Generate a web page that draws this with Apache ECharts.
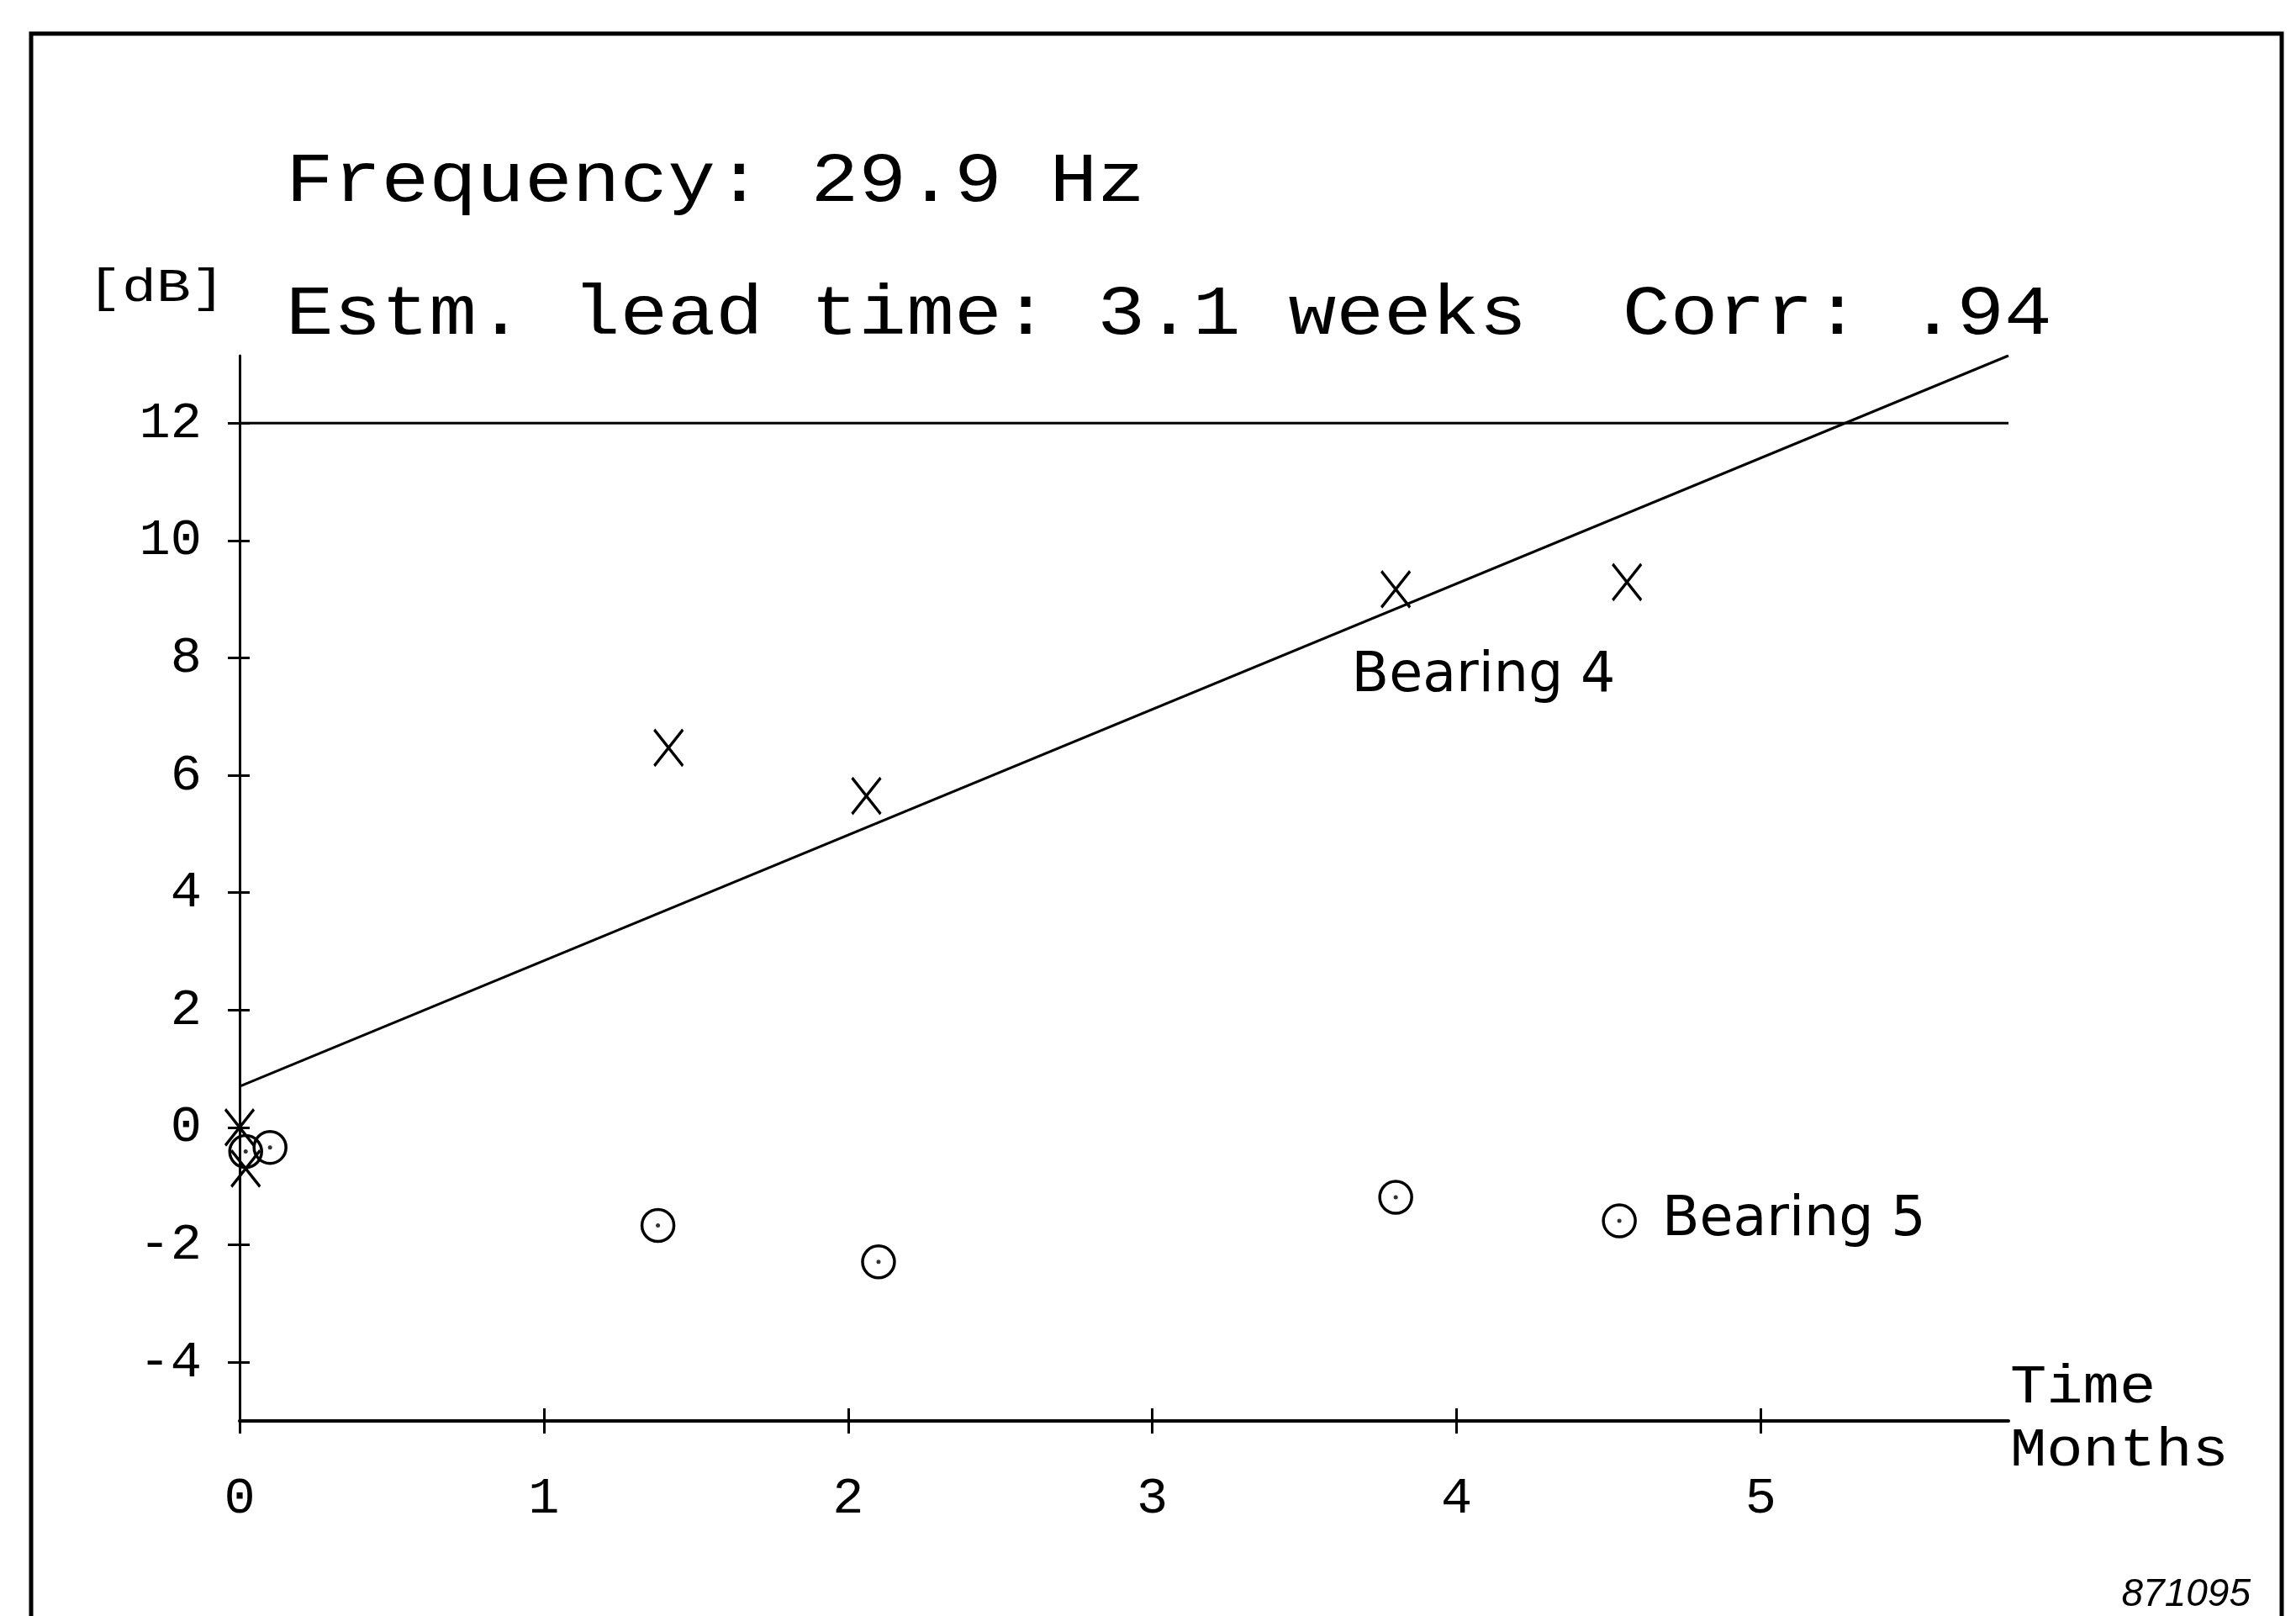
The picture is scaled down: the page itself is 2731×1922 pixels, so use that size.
<!DOCTYPE html>
<html>
<head>
<meta charset="utf-8">
<script src="https://cdn.jsdelivr.net/npm/echarts@6/dist/echarts.min.js"></script>
<style>
html,body{margin:0;padding:0;background:#fff;}
#chart{width:2731px;height:1922px;}
</style>
</head>
<body>
<div id="chart"></div>
<script>
// ---- data ----
const xTicks = [0, 1, 2, 3, 4, 5];
const yTicks = [-4, -2, 0, 2, 4, 6, 8, 10, 12];
const xRange = [0, 5.814];
const yRange = [-5, 13.15];
const bearing4 = [[0, 0.0], [0.02, -0.70], [1.41, 6.47], [2.06, 5.65], [3.80, 9.17], [4.56, 9.29]];
const bearing5 = [[0.02, -0.41], [0.10, -0.34], [1.375, -1.67], [2.10, -2.29], [3.80, -1.19], [4.535, -1.59]];
const trendLine = [[0, 0.70], [5.814, 13.15]];
const alarmLine = [[0, 12], [5.814, 12]];
const titleLines = ['Frequency: 29.9 Hz', 'Estm. lead time: 3.1 weeks  Corr: .94'];
const yUnit = '[dB]';
const xNameLines = ['Time', 'Months'];
const seriesNames = ['Bearing 4', 'Bearing 5'];
const labelIndex = [4, 5];
const figureId = '871095';

// ---- chart ----
const MONO = '"Liberation Mono", "DejaVu Sans Mono", monospace';
const SANS = '"DejaVu Sans", sans-serif';
const chart = echarts.init(document.getElementById('chart'), null, {renderer: 'canvas'});

const labelStyle = {fontFamily: SANS, fontSize: 65, color: '#000', fontWeight: 'normal', textBorderWidth: 0};
const b4Items = bearing4.map((p, i) => i === labelIndex[0] ? {
  value: p,
  label: Object.assign({show: true, formatter: seriesNames[0], position: [-34, 128], align: 'left', verticalAlign: 'middle'}, labelStyle)
} : {value: p});
const b5Items = bearing5.map((p, i) => i === labelIndex[1] ? {
  value: p,
  label: Object.assign({show: true, formatter: seriesNames[1], position: 'right', distance: 30, align: 'left', verticalAlign: 'middle'}, labelStyle)
} : {value: p});

const axisCommonX = {
  type: 'value', min: xRange[0], max: xRange[1], splitLine: {show: false}
};
const axisCommonY = {
  type: 'value', min: yRange[0], max: yRange[1], splitLine: {show: false}
};

const option = {
  animation: false,
  backgroundColor: '#fff',
  grid: {left: 285, right: 342, top: 423, bottom: 232, containLabel: false, outerBoundsMode: 'none'},
  xAxis: [
    Object.assign({}, axisCommonX, {
      position: 'bottom',
      axisLine: {show: true, onZero: false, lineStyle: {color: '#000', width: 4}},
      axisTick: {show: true, inside: false, length: 15, customValues: xTicks, lineStyle: {color: '#000', width: 3}},
      axisLabel: {show: true, customValues: xTicks, margin: 62, fontFamily: MONO, fontSize: 62, color: '#000'}
    }),
    Object.assign({}, axisCommonX, {
      position: 'bottom',
      axisLine: {show: false, onZero: false},
      axisTick: {show: true, inside: true, length: 15, customValues: xTicks, lineStyle: {color: '#000', width: 3}},
      axisLabel: {show: false}
    })
  ],
  yAxis: [
    Object.assign({}, axisCommonY, {
      position: 'left',
      axisLine: {show: true, onZero: false, lineStyle: {color: '#000', width: 3}},
      axisTick: {show: true, inside: false, length: 14, customValues: yTicks, lineStyle: {color: '#000', width: 3}},
      axisLabel: {show: true, customValues: yTicks, margin: 45, fontFamily: MONO, fontSize: 62, color: '#000'}
    }),
    Object.assign({}, axisCommonY, {
      position: 'left',
      axisLine: {show: false, onZero: false},
      axisTick: {show: true, inside: true, length: 12, customValues: yTicks, lineStyle: {color: '#000', width: 3}},
      axisLabel: {show: false}
    })
  ],
  series: [
    {
      type: 'line', name: 'alarm', data: alarmLine, showSymbol: false, symbol: 'none',
      lineStyle: {color: '#000', width: 3}, z: 2, silent: true
    },
    {
      type: 'line', name: 'trend', data: trendLine, showSymbol: false, symbol: 'none',
      lineStyle: {color: '#000', width: 3}, z: 2, silent: true
    },
    {
      type: 'scatter', name: seriesNames[0], data: b4Items,
      symbol: 'path://M0 0L34 43M34 0L0 43', symbolSize: [34, 43], symbolKeepAspect: false,
      itemStyle: {color: '#000', borderColor: '#000', borderWidth: 3.5, opacity: 1},
      label: {color: '#000'}, z: 4
    },
    {
      type: 'scatter', name: seriesNames[1], data: b5Items,
      symbol: 'circle', symbolSize: 38,
      itemStyle: {color: 'rgba(0,0,0,0)', borderColor: '#000', borderWidth: 3.5, opacity: 1},
      label: {color: '#000'}, z: 4
    },
    {
      type: 'scatter', name: seriesNames[1] + ' centre', data: bearing5,
      symbol: 'circle', symbolSize: 5,
      itemStyle: {color: '#000'}, z: 5
    }
  ],
  graphic: [
    {type: 'rect', shape: {x: 37, y: 40, width: 2677, height: 1960}, style: {fill: 'none', stroke: '#000', lineWidth: 5}, silent: true},
    {type: 'text', x: 340, y: 217, scaleX: 1.14, style: {text: titleLines[0], font: '83px ' + MONO, fill: '#000', align: 'left', verticalAlign: 'middle'}},
    {type: 'text', x: 340, y: 375, scaleX: 1.14, style: {text: titleLines[1], font: '83px ' + MONO, fill: '#000', align: 'left', verticalAlign: 'middle'}},
    {type: 'text', x: 104, y: 343, scaleX: 1.22, style: {text: yUnit, font: '56px ' + MONO, fill: '#000', align: 'left', verticalAlign: 'middle'}},
    {type: 'text', x: 2391, y: 1651, scaleX: 1.11, style: {text: xNameLines[0], font: '65px ' + MONO, fill: '#000', align: 'left', verticalAlign: 'middle'}},
    {type: 'text', x: 2391, y: 1726, scaleX: 1.11, style: {text: xNameLines[1], font: '65px ' + MONO, fill: '#000', align: 'left', verticalAlign: 'middle'}},
    {type: 'text', x: 2677, y: 1897, style: {text: figureId, font: 'italic 46px "Liberation Sans", sans-serif', fill: '#000', align: 'right', verticalAlign: 'middle'}}
  ]
};
chart.setOption(option);
</script>
</body>
</html>
